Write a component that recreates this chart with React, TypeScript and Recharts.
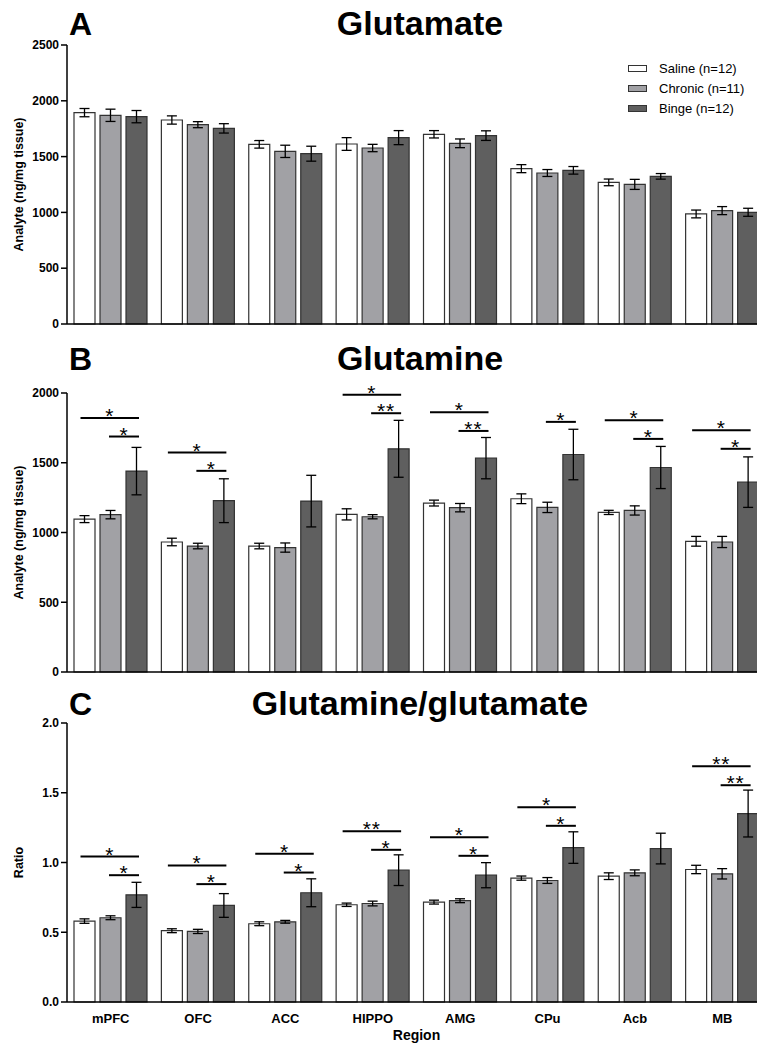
import { Bar, BarChart, ErrorBar, Legend, XAxis, YAxis } from "recharts";

const regions = ["mPFC", "OFC", "ACC", "HIPPO", "AMG", "CPu", "Acb", "MB"];

// A: glutamate (ng/mg tissue), mean and SEM
const gluSaline = [1894, 1828, 1610, 1613, 1700, 1392, 1269, 986];
const gluSalineErr = [37, 37, 34, 57, 33, 36, 30, 35];
const gluChronic = [1870, 1786, 1547, 1577, 1619, 1353, 1251, 1016];
const gluChronicErr = [55, 27, 55, 33, 39, 31, 45, 36];
const gluBinge = [1858, 1753, 1526, 1670, 1688, 1377, 1323, 1001];
const gluBingeErr = [55, 42, 67, 63, 43, 34, 25, 36];

// B: glutamine
const glnSaline = [1096, 932, 903, 1130, 1211, 1242, 1144, 937];
const glnSalineErr = [25, 27, 20, 40, 21, 35, 15, 35];
const glnChronic = [1128, 903, 892, 1113, 1178, 1180, 1158, 932];
const glnChronicErr = [30, 20, 33, 15, 30, 37, 33, 40];
const glnBinge = [1440, 1228, 1225, 1600, 1533, 1559, 1466, 1361];
const glnBingeErr = [170, 157, 185, 204, 148, 181, 151, 181];
const glnLong = [1821, 1573, null, 1988, 1862, null, 1805, 1733];
const glnLongStar = ["*", "*", "", "*", "*", "", "*", "*"];
const glnShort = [1688, 1442, null, 1855, 1728, 1793, 1671, 1600];
const glnShortStar = ["*", "*", "", "**", "**", "*", "*", "*"];

// C: glutamine/glutamate ratio
const ratioSaline = [0.58, 0.511, 0.561, 0.697, 0.716, 0.888, 0.902, 0.95];
const ratioSalineErr = [0.016, 0.014, 0.014, 0.012, 0.014, 0.015, 0.024, 0.03];
const ratioChronic = [0.604, 0.506, 0.575, 0.706, 0.726, 0.871, 0.926, 0.919];
const ratioChronicErr = [0.014, 0.015, 0.01, 0.017, 0.014, 0.021, 0.021, 0.037];
const ratioBinge = [0.768, 0.692, 0.783, 0.945, 0.909, 1.107, 1.1, 1.351];
const ratioBingeErr = [0.09, 0.085, 0.1, 0.11, 0.09, 0.113, 0.11, 0.168];
const ratioLong = [1.043, 0.979, 1.062, 1.224, 1.181, 1.396, null, 1.69];
const ratioLongStar = ["*", "*", "*", "**", "*", "*", "", "**"];
const ratioShort = [0.909, 0.845, 0.928, 1.091, 1.048, 1.263, null, 1.554];
const ratioShortStar = ["*", "*", "*", "*", "*", "*", "", "**"];

const gluTicks = [0, 500, 1000, 1500, 2000, 2500];
const glnTicks = [0, 500, 1000, 1500, 2000];
const ratioTicks = [0, 0.5, 1, 1.5, 2];

const FONT = '"Liberation Sans", Arial, Helvetica, sans-serif';

const SERIES = [
  { key: "saline", name: "Saline (n=12)", fill: "#ffffff" },
  { key: "chronic", name: "Chronic (n=11)", fill: "#a1a1a5" },
  { key: "binge", name: "Binge (n=12)", fill: "#5f5f5f" },
];

function buildRows(
  saline: number[],
  salineErr: number[],
  chronic: number[],
  chronicErr: number[],
  binge: number[],
  bingeErr: number[],
  long?: (number | null)[],
  longStar?: string[],
  short?: (number | null)[],
  shortStar?: string[]
) {
  return regions.map((region, i) => ({
    region,
    saline: saline[i],
    salineErr: salineErr[i],
    chronic: chronic[i],
    chronicErr: chronicErr[i],
    binge: binge[i],
    bingeErr: bingeErr[i],
    long: long ? long[i] : null,
    longStar: longStar ? longStar[i] : "",
    short: short ? short[i] : null,
    shortStar: shortStar ? shortStar[i] : "",
  }));
}

const gluRows = buildRows(gluSaline, gluSalineErr, gluChronic, gluChronicErr, gluBinge, gluBingeErr);
const glnRows = buildRows(
  glnSaline, glnSalineErr, glnChronic, glnChronicErr, glnBinge, glnBingeErr,
  glnLong, glnLongStar, glnShort, glnShortStar
);
const ratioRows = buildRows(
  ratioSaline, ratioSalineErr, ratioChronic, ratioChronicErr, ratioBinge, ratioBingeErr,
  ratioLong, ratioLongStar, ratioShort, ratioShortStar
);

// significance line drawn over a hidden full-group bar
function Bracket(props: any) {
  const { x, y, width, payload, valueKey, starKey, inset } = props;
  if (!payload || payload[valueKey] == null) return <g />;
  const x1 = x + inset;
  const x2 = x + width - 8;
  return (
    <g>
      <line x1={x1} x2={x2} y1={y} y2={y} stroke="#000" strokeWidth={2} />
      <text
        x={(x1 + x2) / 2}
        y={y + 5}
        textAnchor="middle"
        fontSize={21}
        letterSpacing={1}
        fill="#000"
      >
        {payload[starKey]}
      </text>
    </g>
  );
}

function LegendBox() {
  return (
    <div style={{ fontFamily: FONT, fontSize: 13, color: "#000" }}>
      {SERIES.map((s) => (
        <div key={s.key} style={{ display: "flex", alignItems: "center", height: 20 }}>
          <span
            style={{
              display: "inline-block",
              width: 19,
              height: 7,
              boxSizing: "border-box",
              border: "1px solid #333",
              background: s.fill,
              marginRight: 12,
            }}
          />
          <span>{s.name}</span>
        </div>
      ))}
    </div>
  );
}

interface PanelProps {
  top: number;
  height: number;
  marginTop: number;
  axisHeight: number;
  data: ReturnType<typeof buildRows>;
  domain: [number, number];
  ticks: number[];
  yLabel: string;
  categories?: boolean;
  legend?: boolean;
  brackets?: boolean;
  decimals?: number;
}

function Panel({
  top,
  height,
  marginTop,
  axisHeight,
  data,
  domain,
  ticks,
  yLabel,
  categories,
  legend,
  brackets,
  decimals = 0,
}: PanelProps) {
  return (
    <div style={{ position: "absolute", left: 0, top }}>
      <BarChart
        width={770}
        height={height}
        data={data}
        margin={{ top: marginTop, right: 4, bottom: 0, left: 0 }}
        barCategoryGap={7}
        barGap={5}
      >
        <XAxis
          dataKey="region"
          height={axisHeight}
          axisLine={{ stroke: "#000", strokeWidth: 1.5 }}
          tickLine={false}
          tick={categories ? { fill: "#000", fontSize: 13, fontWeight: "bold" } : false}
          tickMargin={6}
          interval={0}
          label={
            categories
              ? {
                  value: "Region",
                  position: "insideBottom",
                  offset: 5,
                  style: { fontSize: 14, fontWeight: "bold", fill: "#000" },
                }
              : undefined
          }
        />
        <XAxis xAxisId="long" dataKey="region" hide />
        <XAxis xAxisId="short" dataKey="region" hide />
        <YAxis
          width={67}
          domain={domain}
          ticks={ticks}
          interval={0}
          axisLine={{ stroke: "#000", strokeWidth: 1.5 }}
          tickLine={{ stroke: "#000", strokeWidth: 1.5 }}
          tick={{ fill: "#000", fontSize: 12, fontWeight: "bold" }}
          tickFormatter={(v: number) => v.toFixed(decimals)}
          label={{
            value: yLabel,
            angle: -90,
            position: "insideLeft",
            offset: 19,
            style: { textAnchor: "middle", fontSize: 12.5, fontWeight: "bold", fill: "#000" },
          }}
        />
        {legend && (
          <Legend
            layout="vertical"
            align="center"
            verticalAlign="middle"
            content={<LegendBox />}
            wrapperStyle={{ top: 58, left: 628, width: "auto" }}
          />
        )}
        {SERIES.map((s) => (
          <Bar
            key={s.key}
            dataKey={s.key}
            name={s.name}
            fill={s.fill}
            stroke="#333"
            strokeWidth={1.2}
            isAnimationActive={false}
          >
            <ErrorBar
              dataKey={`${s.key}Err`}
              width={5}
              stroke="#000"
              strokeWidth={1.3}
              direction="y"
              isAnimationActive={false}
            />
          </Bar>
        ))}
        {brackets && (
          <Bar
            xAxisId="long"
            dataKey="long"
            legendType="none"
            isAnimationActive={false}
            shape={(p: any) => <Bracket {...p} valueKey="long" starKey="longStar" inset={6.5} />}
          />
        )}
        {brackets && (
          <Bar
            xAxisId="short"
            dataKey="short"
            legendType="none"
            isAnimationActive={false}
            shape={(p: any) => <Bracket {...p} valueKey="short" starKey="shortStar" inset={35} />}
          />
        )}
      </BarChart>
    </div>
  );
}

const titles = [
  { letter: "A", title: "Glutamate", y: 35 },
  { letter: "B", title: "Glutamine", y: 370 },
  { letter: "C", title: "Glutamine/glutamate", y: 715 },
];

export default function App() {
  return (
    <div
      style={{
        position: "absolute",
        left: 0,
        top: 0,
        width: 757,
        height: 1045,
        overflow: "hidden",
        background: "#fff",
        fontFamily: FONT,
      }}
    >
      <Panel
        top={0}
        height={335}
        marginTop={45}
        axisHeight={11}
        data={gluRows}
        domain={[0, 2500]}
        ticks={gluTicks}
        yLabel="Analyte (ng/mg tissue)"
        legend
      />
      <Panel
        top={340}
        height={345}
        marginTop={53}
        axisHeight={13}
        data={glnRows}
        domain={[0, 2000]}
        ticks={glnTicks}
        yLabel="Analyte (ng/mg tissue)"
        brackets
      />
      <Panel
        top={680}
        height={365}
        marginTop={43}
        axisHeight={43}
        data={ratioRows}
        domain={[0, 2]}
        ticks={ratioTicks}
        yLabel="Ratio"
        categories
        brackets
        decimals={1}
      />
      <svg
        width={757}
        height={1045}
        style={{ position: "absolute", left: 0, top: 0, pointerEvents: "none" }}
      >
        {titles.map((t) => (
          <g key={t.letter} fontWeight="bold" fill="#000">
            <text x={69} y={t.y} fontSize={32}>
              {t.letter}
            </text>
            <text x={420} y={t.y} fontSize={34} textAnchor="middle">
              {t.title}
            </text>
          </g>
        ))}
      </svg>
    </div>
  );
}
